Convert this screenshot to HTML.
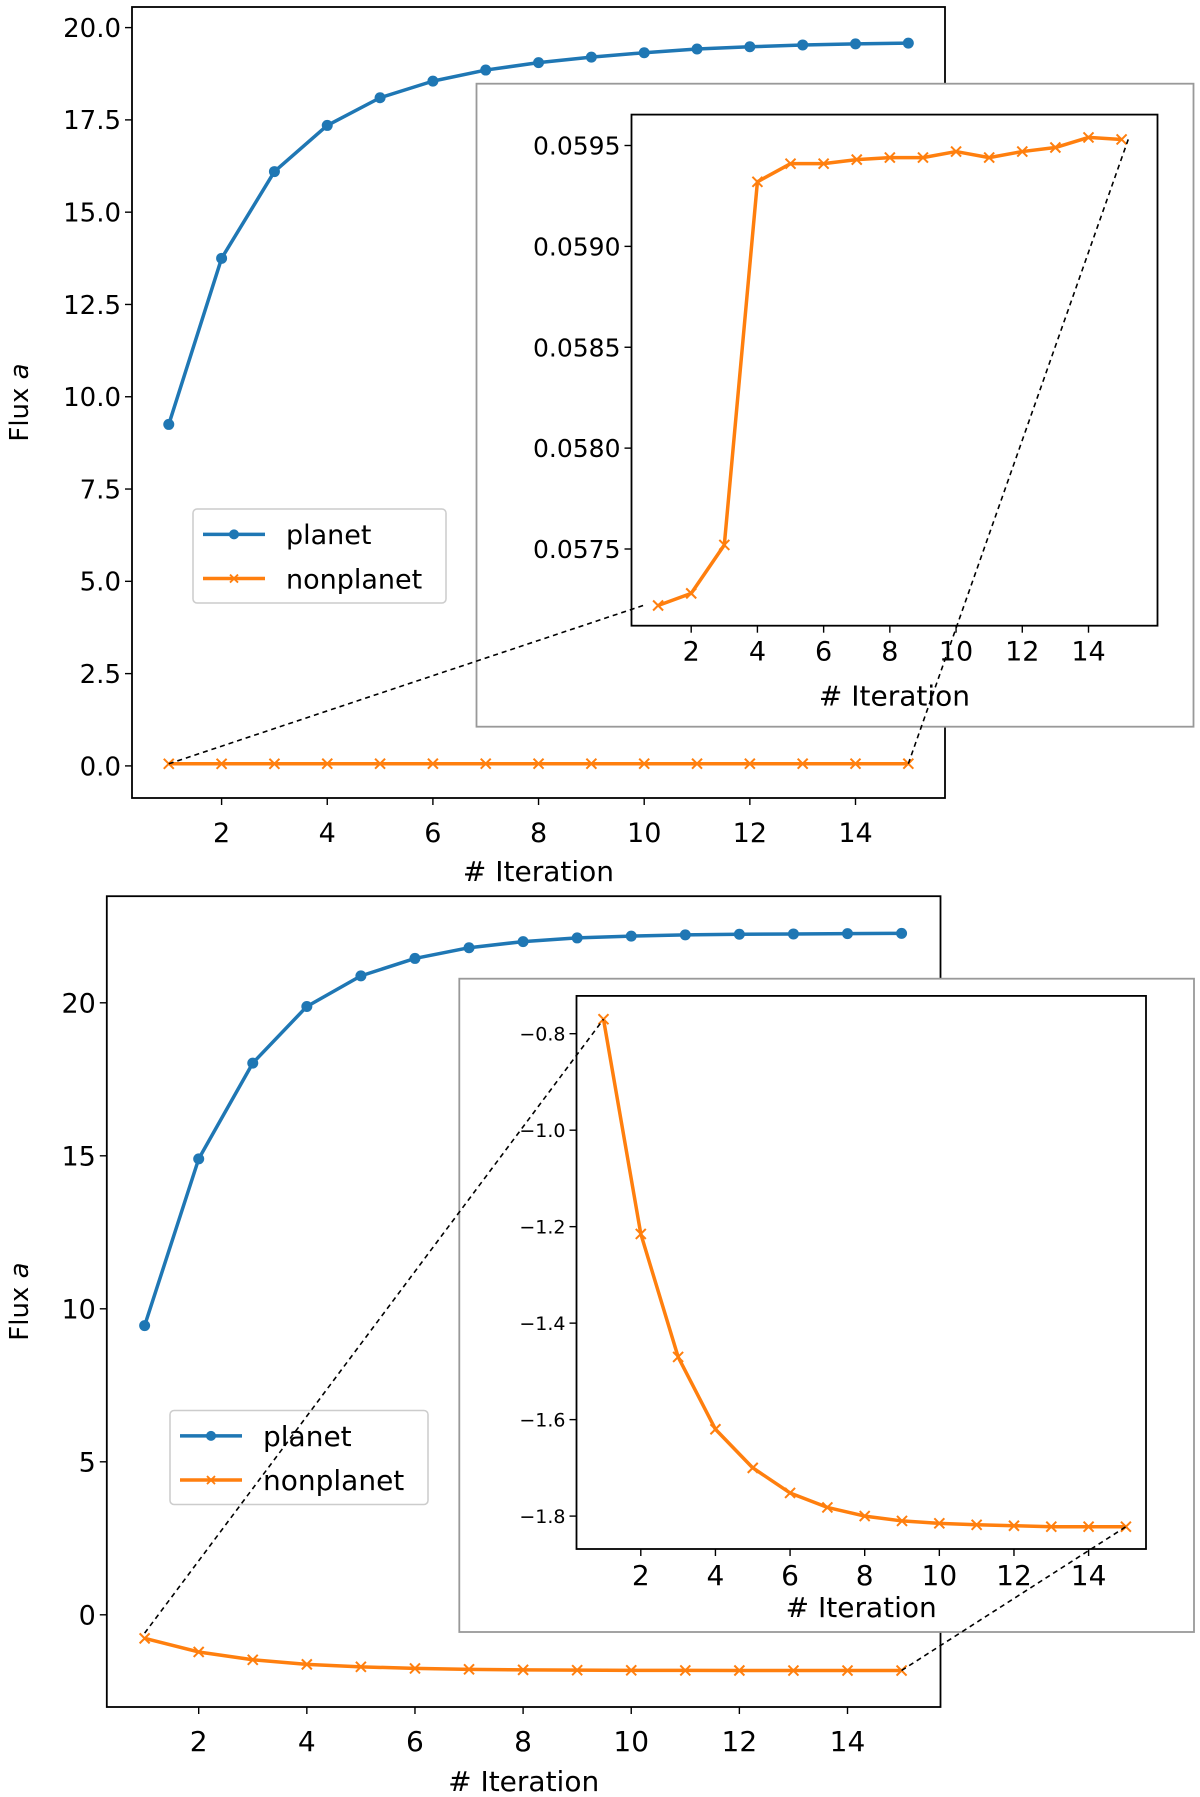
<!DOCTYPE html>
<html><head><meta charset="utf-8"><style>
body{margin:0;background:#fff}
svg{display:block;font-family:"DejaVu Sans","Liberation Sans",sans-serif}
</style></head><body>
<svg id="s" width="1200" height="1797" viewBox="0 0 1200 1797"></svg>
<script>
const iterations=[1,2,3,4,5,6,7,8,9,10,11,12,13,14,15];
const planetA=[9.25,13.75,16.1,17.35,18.1,18.55,18.85,19.05,19.2,19.32,19.42,19.48,19.53,19.56,19.58];
const nonplanetA=[0.05722,0.05728,0.05752,0.05932,0.05941,0.05941,0.05943,0.05944,0.05944,0.05947,0.05944,0.05947,0.05949,0.05954,0.05953];
const planetB=[9.45,14.9,18.03,19.88,20.88,21.45,21.8,22.0,22.12,22.18,22.22,22.24,22.25,22.26,22.27];
const nonplanetB=[-0.77,-1.215,-1.47,-1.62,-1.70,-1.752,-1.782,-1.80,-1.81,-1.815,-1.818,-1.82,-1.822,-1.822,-1.822];
const xTicks=[2,4,6,8,10,12,14];
const yTicksA=[0,2.5,5,7.5,10,12.5,15,17.5,20];
const yTicksAin=[0.0575,0.058,0.0585,0.059,0.0595];
const yTicksB=[0,5,10,15,20];
const yTicksBin=[-1.8,-1.6,-1.4,-1.2,-1.0,-0.8];
const NS='http://www.w3.org/2000/svg';
const svg=document.getElementById('s');
function el(tag,attrs,parent){const e=document.createElementNS(NS,tag);for(const k in attrs)e.setAttribute(k,attrs[k]);(parent||svg).appendChild(e);return e;}
function lin(d0,d1,p0,p1){return v=>p0+(v-d0)*(p1-p0)/(d1-d0);}
function axes(name,box,sx,sy,xt,yt,yfmt,xfs,yfs,tickOff,labelOff,ylabel,labelFs){
  const g=el('g',{});
  el('rect',{x:box[0],y:box[1],width:box[2]-box[0],height:box[3]-box[1],fill:'#fff',stroke:'#000','stroke-width':1.8},g);
  xt.forEach(v=>{const x=sx(v);el('line',{x1:x,x2:x,y1:box[3],y2:box[3]+7,stroke:'#000','stroke-width':1.4},g);
    const t=el('text',{x:x,y:box[3]+tickOff,'font-size':xfs,'text-anchor':'middle'},g);t.textContent=v;});
  yt.forEach(v=>{const y=sy(v);el('line',{x1:box[0]-7,x2:box[0],y1:y,y2:y,stroke:'#000','stroke-width':1.4},g);
    const t=el('text',{x:box[0]-11,y:y+yfs*0.36,'font-size':yfs,'text-anchor':'end'},g);t.textContent=yfmt(v);});
  const xl=el('text',{x:(box[0]+box[2])/2,y:box[3]+labelOff,'font-size':labelFs,'text-anchor':'middle'},g);xl.textContent='# Iteration';
  
  if(ylabel){const yl=el('text',{x:0,y:0,'font-size':labelFs-2,'text-anchor':'middle',transform:`translate(28,${(box[1]+box[3])/2}) rotate(-90)`},g);
    yl.innerHTML='Flux <tspan font-style="italic">a</tspan>';}
  return g;
}
function series(name,xs,ys,sx,sy,color,marker,lw,ms){
  const g=el('g',{});
  el('polyline',{points:xs.map((x,i)=>sx(x)+','+sy(ys[i])).join(' '),fill:'none',stroke:color,'stroke-width':lw,'stroke-linejoin':'round'},g);
  xs.forEach((x,i)=>{const px=sx(x),py=sy(ys[i]);
    if(marker==='o')el('circle',{cx:px,cy:py,r:ms,fill:color},g);
    else{el('path',{d:`M${px-ms},${py-ms}L${px+ms},${py+ms}M${px-ms},${py+ms}L${px+ms},${py-ms}`,stroke:color,'stroke-width':2},g);}});
}
function legend(name,x,y,w,h,fs){
  const g=el('g',{});
  el('rect',{x:x,y:y,width:w,height:h,rx:4,fill:'#fff','fill-opacity':0.8,stroke:'#ccc','stroke-width':1.5},g);
  const items=[['planet','#1f77b4','o'],['nonplanet','#ff7f0e','x']];
  items.forEach((it,i)=>{const cy=y+h*0.27+i*h*0.47;
    el('line',{x1:x+10,x2:x+72,y1:cy,y2:cy,stroke:it[1],'stroke-width':3.5},g);
    if(it[2]==='o')el('circle',{cx:x+41,cy:cy,r:5,fill:it[1]},g);
    else el('path',{d:`M${x+37},${cy-4}L${x+45},${cy+4}M${x+37},${cy+4}L${x+45},${cy-4}`,stroke:it[1],'stroke-width':1.8},g);
    const t=el('text',{x:x+93,y:cy+fs*0.36,'font-size':fs},g);t.textContent=it[0];
    });
}
function dash(x1,y1,x2,y2){const l=el('line',{x1,y1,x2,y2,stroke:'#000','stroke-width':1.6,'stroke-dasharray':'5,4'});
  }

// ---- Top chart
const ax1=[132,7,945,798];
const sx1=lin(2,14,221.6,855.5), sy1=lin(0,20,765.9,27.6);
axes('top-main-axes',ax1,sx1,sy1,xTicks,yTicksA,v=>v.toFixed(1),27,26,44,83,true,28);
series('top-planet-line',iterations,planetA,sx1,sy1,'#1f77b4','o',3.5,5.5);
series('top-nonplanet-line',iterations,nonplanetA,sx1,sy1,'#ff7f0e','x',3.5,5);
legend('top-legend',193,509,253,94,27);
const f1=el('rect',{x:476.5,y:83.7,width:717,height:643,fill:'#fff',stroke:'#999','stroke-width':1.8});

const in1=[631.5,114.6,1157.5,625.7];
const sxi1=lin(2,14,691.2,1088.5), syi1=lin(0.0575,0.0595,549,145.5);
axes('top-inset-axes',in1,sxi1,syi1,xTicks,yTicksAin,v=>v.toFixed(4),27,25,35,80,false,28);
series('top-inset-nonplanet-line',iterations,nonplanetA,sxi1,syi1,'#ff7f0e','x',3.5,5);
dash(sx1(1),sy1(0.0572),sxi1(0.55),syi1(0.05722));
dash(sx1(15),sy1(0.0595),sxi1(15.2),syi1(0.05953));

// ---- Bottom chart
const ax2=[106.8,896.2,940.5,1707];
const sx2=lin(2,14,198.7,847.5), sy2=lin(0,20,1614.8,1002.8);
axes('bottom-main-axes',ax2,sx2,sy2,xTicks,yTicksB,v=>v,28,27,44,84,true,28);
series('bottom-planet-line',iterations,planetB,sx2,sy2,'#1f77b4','o',3.5,5.5);
series('bottom-nonplanet-line',iterations,nonplanetB,sx2,sy2,'#ff7f0e','x',3.5,5);
legend('bottom-legend',170,1410.5,258,94,28);
const f2=el('rect',{x:459.3,y:978.7,width:734.7,height:653.3,fill:'#fff',stroke:'#999','stroke-width':1.8});

const in2=[576.5,995.9,1146,1549];
const sxi2=lin(2,14,640.8,1088.6), syi2=lin(-1.8,-0.8,1516.1,1033.7);
axes('bottom-inset-axes',in2,sxi2,syi2,xTicks,yTicksBin,v=>'\u2212'+Math.abs(v).toFixed(1),28,19,36,68,false,28);
series('bottom-inset-nonplanet-line',iterations,nonplanetB,sxi2,syi2,'#ff7f0e','x',3.5,5);
dash(sx2(1),sy2(-0.6),sxi2(1),syi2(-0.77));
dash(sx2(15),sy2(-1.82),sxi2(15),syi2(-1.822));
</script>
</body></html>
